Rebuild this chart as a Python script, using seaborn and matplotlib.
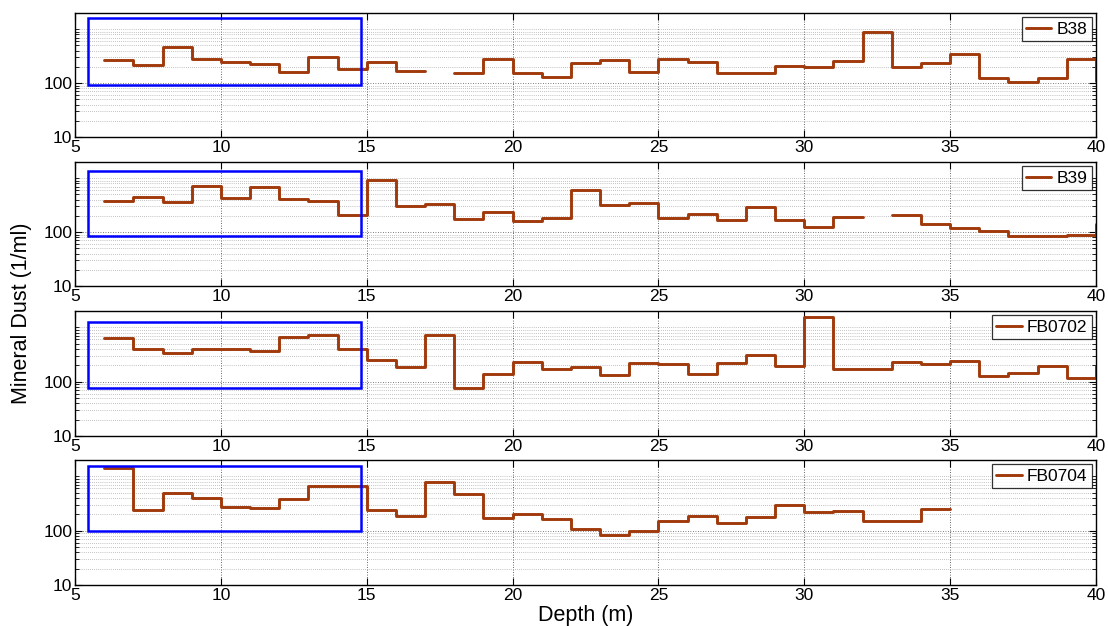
import numpy as np
import pandas as pd
import matplotlib
matplotlib.use("Agg")
import matplotlib.pyplot as plt
from matplotlib.patches import Rectangle
from matplotlib.ticker import FixedLocator, NullFormatter, FixedFormatter
import seaborn as sns

sns.set_theme(style="white")
plt.rcParams["font.family"] = ["Liberation Sans", "DejaVu Sans"]
plt.rcParams["text.color"] = "black"
plt.rcParams["axes.labelcolor"] = "black"
plt.rcParams["xtick.color"] = "black"
plt.rcParams["ytick.color"] = "black"

# Mineral dust concentration (1/ml) per 1 m depth interval, starting at each depth
nan = np.nan
depth_b38 = list(range(6, 41))
dust_b38 = [273, 217, 468, 277, 250, 222, 160, 307, 184, 250, 171, nan, 157, 285,
            155, 128, 236, 270, 160, 277, 247, 157, 155, 207, 199, 258, 877, 201,
            233, 351, 124, 106, 126, 277, 110]

depth_b39 = list(range(6, 41))
dust_b39 = [385, 451, 359, 714, 432, 674, 414, 374, 205, 924, 306, 329, 177, 233,
            158, 185, 610, 324, 353, 185, 217, 168, 289, 170, 124, 188, nan, 211,
            143, 121, 107, 85, 85, 88, 143]

depth_fb0702 = list(range(6, 41))
dust_fb0702 = [636, 408, 334, 396, 396, 374, 655, 724, 396, 250, 188, 735, 78, 137,
               233, 170, 188, 133, 223, 214, 139, 217, 315, 193, 1572, 172, 172, 230,
               208, 236, 126, 143, 196, 117, 196]

depth_fb0704 = list(range(6, 36))
dust_fb0704 = [1427, 241, 498, 397, 278, 267, 375, 662, 672, 245, 187, 785, 471, 174,
               207, 162, 106, 82, 100, 153, 187, 139, 179, 294, 219, 228, 149, 153,
               252, 252]

cores = ["B38", "B39", "FB0702", "FB0704"]
depths = [depth_b38, depth_b39, depth_fb0702, depth_fb0704]
dusts = [dust_b38, dust_b39, dust_fb0702, dust_fb0704]

# Highlighted depth window (x0, x1, y0, y1) for each core
windows = [(5.45, 14.82, 92, 1640),
           (5.45, 14.82, 83, 1380),
           (5.45, 14.82, 75, 1260),
           (5.45, 14.82, 97, 1560)]

line_color = "#A0390B"


def stair_frame(x, y):
    """Split a stair series into contiguous runs; a missing value closes the previous run."""
    rows = []
    run = 0
    last = None
    for xi, yi in zip(x, y):
        if np.isnan(yi):
            if last is not None:
                rows.append((xi, last, run))
            run += 1
            last = None
        else:
            rows.append((xi, yi, run))
            last = yi
    return pd.DataFrame(rows, columns=["depth", "dust", "run"])


W, H = 1108, 626
fig = plt.figure(figsize=(W / 100, H / 100), dpi=100)

left_px, right_px = 75, 1096
panel_px = [(13, 137), (162, 286), (311, 436), (460, 585)]

minor_y = [20, 30, 40, 50, 60, 70, 80, 90,
           200, 300, 400, 500, 600, 700, 800, 900, 1000]

for name, x, y, win, (top, bot) in zip(cores, depths, dusts, windows, panel_px):
    ax = fig.add_axes([left_px / W, 1 - bot / H, (right_px - left_px) / W, (bot - top) / H])
    df = stair_frame(x, y)
    sns.lineplot(data=df, x="depth", y="dust", units="run", estimator=None,
                 drawstyle="steps-post", color=line_color, lw=2.1, sort=False,
                 legend=False, ax=ax)
    ax.set_yscale("log")
    ax.set_xlim(5, 40)
    ax.set_ylim(10, 2000)

    x0, x1, y0, y1 = win
    ax.add_patch(Rectangle((x0, y0), x1 - x0, y1 - y0, fill=False,
                           edgecolor="#0000FF", lw=1.8, zorder=5))

    ax.set_xticks(range(5, 41, 5))
    ax.set_xticklabels([str(v) for v in range(5, 41, 5)])
    ax.yaxis.set_major_locator(FixedLocator([10, 100]))
    ax.yaxis.set_major_formatter(FixedFormatter(["10", "100"]))
    ax.yaxis.set_minor_locator(FixedLocator(minor_y))
    ax.yaxis.set_minor_formatter(NullFormatter())

    ax.grid(True, which="major", axis="x", color="#333333", ls=(0, (1, 2)), lw=0.6)
    ax.grid(True, which="major", axis="y", color="#555555", ls=(0, (1, 2)), lw=0.6)
    ax.grid(True, which="minor", axis="y", color="#8a8a8a", ls=(0, (1, 2)), lw=0.5)

    ax.tick_params(which="both", direction="in", top=True, right=True,
                   bottom=True, left=True, colors="black", labelcolor="black",
                   labelsize=12.5)
    ax.tick_params(which="major", length=5, width=0.8, pad=2)
    ax.tick_params(which="minor", length=3, width=0.6)
    for s in ax.spines.values():
        s.set_color("black")
        s.set_linewidth(1.0)
    ax.set_xlabel("")
    ax.set_ylabel("")

    leg = ax.legend([ax.lines[0]], [name], loc="upper right", fontsize=12.5,
                    frameon=True, fancybox=False, handlelength=1.45,
                    handletextpad=0.3, borderpad=0.25, borderaxespad=0.25,
                    labelcolor="black")
    leg.get_frame().set_edgecolor("black")
    leg.get_frame().set_linewidth(0.9)
    leg.set_zorder(10)

fig.text((left_px + right_px) / 2 / W, 1 - 615 / H, "Depth (m)", ha="center",
         va="center", fontsize=15.5, color="black")
fig.text(22 / W, 0.5, "Mineral Dust (1/ml)", ha="center", va="center",
         rotation=90, fontsize=15.5, color="black")

fig.savefig("out.png", dpi=100)
